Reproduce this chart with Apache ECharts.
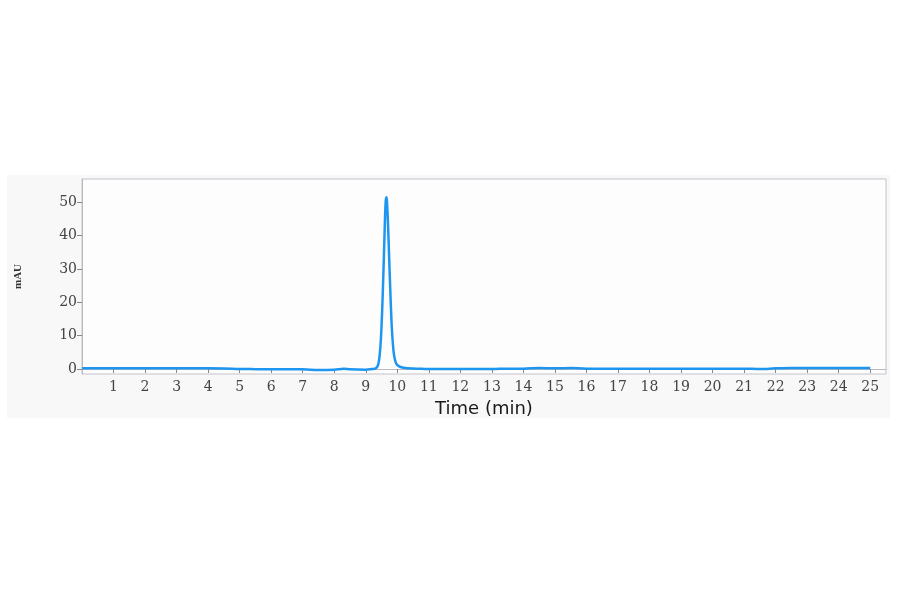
<!DOCTYPE html>
<html>
<head>
<meta charset="utf-8">
<script src="https://cdn.jsdelivr.net/npm/echarts@6/dist/echarts.min.js"></script>
<style>
html,body{margin:0;padding:0;background:#ffffff;}
#chart{width:900px;height:594px;}
</style>
</head>
<body>
<div id="chart"></div>
<script>
// Chromatogram data (time in min, absorbance in mAU)
var timeMin = [0, 0.5, 1, 1.5, 2, 2.5, 3, 3.5, 4, 4.5, 5, 5.5, 6, 6.5, 7, 7.5, 8, 8.3, 8.5, 9, 9.2,
  9.3, 9.36, 9.4, 9.44, 9.48, 9.52, 9.56, 9.6, 9.63, 9.65, 9.67, 9.7, 9.74, 9.78, 9.82, 9.86, 9.9, 9.95,
  10.0, 10.1, 10.25, 10.5, 10.8, 11, 11.5, 12, 12.5, 13, 13.5, 14, 14.5, 15, 15.5, 16, 16.5, 17, 17.5,
  18, 18.5, 19, 19.5, 20, 20.5, 21, 21.5, 22, 22.5, 23, 23.5, 24, 24.5, 25];
var absorbance = [0.2, 0.2, 0.2, 0.2, 0.2, 0.2, 0.2, 0.2, 0.2, 0.15, 0.0, -0.05, -0.1, -0.1, -0.1, -0.3, -0.2, 0.1, -0.1, -0.2, 0.0,
  0.1, 0.6, 1.5, 4.0, 9.0, 17.5, 29, 42, 50, 51.5, 50.5, 45, 34, 23, 13.5, 7.5, 4.0, 2.0,
  1.2, 0.6, 0.3, 0.15, 0.05, 0.0, 0.0, 0.0, 0.0, 0.0, 0.1, 0.1, 0.3, 0.2, 0.3, 0.1, 0.1, 0.1, 0.1,
  0.1, 0.1, 0.1, 0.1, 0.1, 0.1, 0.1, 0.0, 0.2, 0.3, 0.3, 0.3, 0.3, 0.3, 0.3];
var xTicks = [1, 2, 3, 4, 5, 6, 7, 8, 9, 10, 11, 12, 13, 14, 15, 16, 17, 18, 19, 20, 21, 22, 23, 24, 25];
var yTicks = [0, 10, 20, 30, 40, 50];

var points = timeMin.map(function (t, i) { return [t, absorbance[i]]; });

var chart = echarts.init(document.getElementById('chart'), null, {renderer: 'canvas'});
chart.setOption({
  animation: false,
  backgroundColor: '#ffffff',
  graphic: [{
    type: 'rect', z: -100, silent: true,
    shape: {x: 7, y: 175, width: 883, height: 243},
    style: {fill: '#f8f8f8'}
  }],
  grid: {
    left: 82, right: 14, top: 179, bottom: 220,
    show: true, backgroundColor: '#fdfdfd', borderColor: '#c4c4cc', borderWidth: 1
  },
  xAxis: {
    type: 'value', min: 0, max: 25.5,
    name: 'Time (min)', nameLocation: 'middle', nameGap: 26,
    nameTextStyle: {fontFamily: 'DejaVu Sans', fontSize: 18, color: '#1a1a1a'},
    splitLine: {show: false},
    axisLine: {show: true, lineStyle: {color: '#b8b8c0'}},
    axisTick: {show: true, length: 4, customValues: xTicks, lineStyle: {color: '#888'}},
    axisLabel: {customValues: xTicks, margin: 6, fontFamily: 'DejaVu Serif', fontSize: 14, color: '#444'}
  },
  yAxis: {
    type: 'value', min: -1.5, max: 57,
    name: 'mAU', nameLocation: 'middle', nameRotate: 90, nameGap: 58,
    nameTextStyle: {fontFamily: 'Liberation Serif', fontSize: 11, fontWeight: 'bold', color: '#333'},
    splitLine: {show: false},
    axisLine: {show: true, lineStyle: {color: '#b8b8c0'}},
    axisTick: {show: true, length: 5, customValues: yTicks, lineStyle: {color: '#888'}},
    axisLabel: {customValues: yTicks, margin: 5, fontFamily: 'DejaVu Serif', fontSize: 14, color: '#444'}
  },
  series: [{
    type: 'line', data: points, showSymbol: false, smooth: 0.3,
    lineStyle: {color: '#1e96f0', width: 2.5}
  }]
});
</script>
</body>
</html>
